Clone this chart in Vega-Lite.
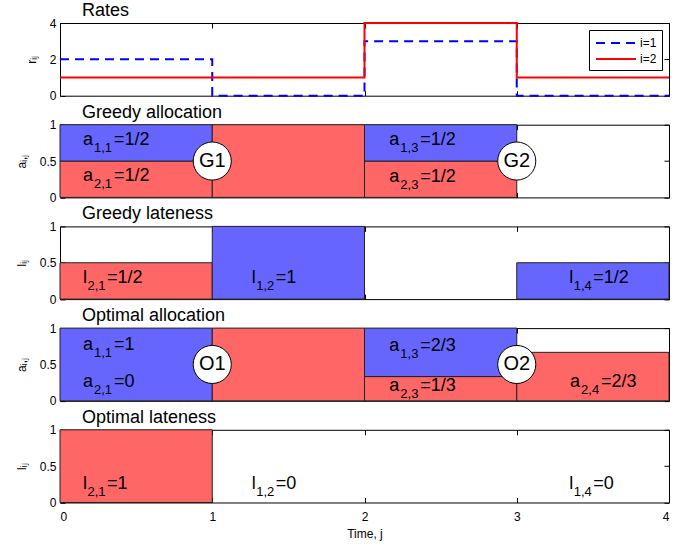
{
 "$schema": "https://vega.github.io/schema/vega-lite/v6.json",
 "background": "white",
 "padding": {"left": 14, "top": 1, "right": 5, "bottom": 5},
 "bounds": "flush",
 "spacing": 28.7,
 "resolve": {"scale": {"color": "independent", "strokeDash": "independent"}},
 "config": {
  "view": {"stroke": "black", "strokeWidth": 1},
  "font": "Liberation Sans",
  "axis": {"domain": false, "grid": false, "tickColor": "black", "tickSize": -5, "labelPadding": 9, "titlePadding": 11, "labelFontSize": 12, "labelColor": "black", "titleFontSize": 12, "titleFontWeight": "normal", "titleColor": "black", "labelFont": "Liberation Sans", "titleFont": "Liberation Sans", "format": "~g"},
  "title": {"fontSize": 18, "fontWeight": "normal", "anchor": "start", "frame": "group", "dx": 22, "offset": -3, "font": "Liberation Sans", "color": "black"},
  "text": {"font": "Liberation Sans", "color": "black"}
 },
 "datasets": {
  "rates": [
   {"t": 0, "r": 2, "s": "i=1"}, {"t": 1, "r": 0, "s": "i=1"}, {"t": 2, "r": 3, "s": "i=1"}, {"t": 3, "r": 0, "s": "i=1"}, {"t": 4, "r": 0, "s": "i=1"},
   {"t": 0, "r": 1, "s": "i=2"}, {"t": 2, "r": 4, "s": "i=2"}, {"t": 3, "r": 1, "s": "i=2"}, {"t": 4, "r": 1, "s": "i=2"}
  ],
  "rects": [
   {"p": "ga", "x": 0, "x2": 1, "y": 0, "y2": 0.5, "f": "r"},
   {"p": "ga", "x": 0, "x2": 1, "y": 0.5, "y2": 1, "f": "b"},
   {"p": "ga", "x": 1, "x2": 2, "y": 0, "y2": 1, "f": "r"},
   {"p": "ga", "x": 2, "x2": 3, "y": 0, "y2": 0.5, "f": "r"},
   {"p": "ga", "x": 2, "x2": 3, "y": 0.5, "y2": 1, "f": "b"},
   {"p": "gl", "x": 0, "x2": 1, "y": 0, "y2": 0.5, "f": "r"},
   {"p": "gl", "x": 1, "x2": 2, "y": 0, "y2": 1, "f": "b"},
   {"p": "gl", "x": 3, "x2": 4, "y": 0, "y2": 0.5, "f": "b"},
   {"p": "oa", "x": 0, "x2": 1, "y": 0, "y2": 1, "f": "b"},
   {"p": "oa", "x": 1, "x2": 2, "y": 0, "y2": 1, "f": "r"},
   {"p": "oa", "x": 2, "x2": 3, "y": 0, "y2": 0.3333, "f": "r"},
   {"p": "oa", "x": 2, "x2": 3, "y": 0.3333, "y2": 1, "f": "b"},
   {"p": "oa", "x": 3, "x2": 4, "y": 0, "y2": 0.6667, "f": "r"},
   {"p": "ol", "x": 0, "x2": 1, "y": 0, "y2": 1, "f": "r"}
  ],
  "labels": [
   {"p": "ga", "x": 0.151, "y": 0.716, "m": "a", "sub": "1,1", "v": "=1/2"},
   {"p": "ga", "x": 0.151, "y": 0.223, "m": "a", "sub": "2,1", "v": "=1/2"},
   {"p": "ga", "x": 2.163, "y": 0.716, "m": "a", "sub": "1,3", "v": "=1/2"},
   {"p": "ga", "x": 2.163, "y": 0.214, "m": "a", "sub": "2,3", "v": "=1/2"},
   {"p": "gl", "x": 0.151, "y": 0.215, "m": "l", "sub": "2,1", "v": "=1/2"},
   {"p": "gl", "x": 1.259, "y": 0.215, "m": "l", "sub": "1,2", "v": "=1"},
   {"p": "gl", "x": 3.345, "y": 0.215, "m": "l", "sub": "1,4", "v": "=1/2"},
   {"p": "oa", "x": 0.151, "y": 0.70, "m": "a", "sub": "1,1", "v": "=1"},
   {"p": "oa", "x": 0.151, "y": 0.194, "m": "a", "sub": "2,1", "v": "=0"},
   {"p": "oa", "x": 2.163, "y": 0.69, "m": "a", "sub": "1,3", "v": "=2/3"},
   {"p": "oa", "x": 2.163, "y": 0.14, "m": "a", "sub": "2,3", "v": "=1/3"},
   {"p": "oa", "x": 3.35, "y": 0.194, "m": "a", "sub": "2,4", "v": "=2/3"},
   {"p": "ol", "x": 0.151, "y": 0.19, "m": "l", "sub": "2,1", "v": "=1"},
   {"p": "ol", "x": 1.259, "y": 0.19, "m": "l", "sub": "1,2", "v": "=0"},
   {"p": "ol", "x": 3.345, "y": 0.19, "m": "l", "sub": "1,4", "v": "=0"}
  ],
  "circles": [
   {"p": "ga", "x": 1, "y": 0.5, "t": "G1"},
   {"p": "ga", "x": 3, "y": 0.5, "t": "G2"},
   {"p": "oa", "x": 1, "y": 0.5, "t": "O1"},
   {"p": "oa", "x": 3, "y": 0.5, "t": "O2"}
  ]
 },
 "vconcat": [
  {
   "title": "Rates",
   "width": 609, "height": 72.7,
   "data": {"name": "rates"},
   "resolve": {"axis": {"x": "independent", "y": "independent"}},
   "layer": [
    {
     "mark": {"type": "line", "interpolate": "step-after", "strokeWidth": 2},
     "encoding": {
      "x": {"field": "t", "type": "quantitative", "scale": {"domain": [0, 4], "nice": false}, "axis": {"orient": "bottom", "values": [0, 1, 2, 3, 4], "labels": false, "title": null}},
      "y": {"field": "r", "type": "quantitative", "scale": {"domain": [0, 4], "nice": false}, "axis": {"orient": "left", "values": [0, 2, 4], "title": "rᵢⱼ"}},
      "color": {"field": "s", "type": "nominal", "scale": {"domain": ["i=1", "i=2"], "range": ["#0000FF", "#FF0000"]},
       "legend": {"title": null, "orient": "top-right", "offset": 7, "strokeColor": "black", "fillColor": "white", "padding": 5, "symbolType": "M-3,0H3", "symbolStrokeWidth": 2, "symbolSize": 178, "symbolOffset": 14, "labelOffset": 16, "labelFontSize": 12, "labelFont": "Liberation Sans", "rowPadding": 2}},
      "strokeDash": {"field": "s", "type": "nominal", "scale": {"domain": ["i=1", "i=2"], "range": [[9, 6], [1, 0]]},
       "legend": {"title": null, "orient": "top-right", "offset": 7, "strokeColor": "black", "fillColor": "white", "padding": 5, "symbolType": "M-3,0H3", "symbolStrokeWidth": 2, "symbolSize": 178, "symbolOffset": 14, "labelOffset": 16, "labelFontSize": 12, "labelFont": "Liberation Sans", "rowPadding": 2}}
     }
    },
    {
     "mark": {"type": "point", "opacity": 0},
     "encoding": {
      "x": {"field": "t", "type": "quantitative", "axis": {"orient": "top", "values": [0, 1, 2, 3, 4], "labels": false, "title": null}},
      "y": {"field": "r", "type": "quantitative", "axis": {"orient": "right", "values": [0, 2, 4], "labels": false, "title": null}}
     }
    }
   ]
  },
  {
   "title": "Greedy allocation",
   "width": 609, "height": 72.7,
   "resolve": {"axis": {"x": "independent", "y": "independent"}},
   "layer": [
    {
     "data": {"name": "rects"},
     "transform": [{"filter": "datum.p == 'ga'"}],
     "mark": {"type": "rect", "stroke": "#222222", "strokeWidth": 1},
     "encoding": {
      "x": {"field": "x", "type": "quantitative", "scale": {"domain": [0, 4], "nice": false}, "axis": {"orient": "bottom", "values": [0, 1, 2, 3, 4], "labels": false, "title": null}},
      "x2": {"field": "x2"},
      "y": {"field": "y", "type": "quantitative", "scale": {"domain": [0, 1], "nice": false}, "axis": {"orient": "left", "values": [0, 0.5, 1], "title": "aᵢ,ⱼ"}},
      "y2": {"field": "y2"},
      "fill": {"field": "f", "type": "nominal", "scale": {"domain": ["b", "r"], "range": ["#6666FF", "#FF6666"]}, "legend": null}
     }
    },
    {
     "data": {"name": "labels"},
     "transform": [{"filter": "datum.p == 'ga'"}],
     "mark": {"type": "text", "align": "left", "baseline": "alphabetic", "fontSize": 18},
     "encoding": {
      "x": {"field": "x", "type": "quantitative", "axis": {"orient": "top", "values": [0, 1, 2, 3, 4], "labels": false, "title": null}},
      "y": {"field": "y", "type": "quantitative", "axis": {"orient": "right", "values": [0, 0.5, 1], "labels": false, "title": null}},
      "text": {"field": "m"}
     }
    },
    {
     "data": {"name": "labels"},
     "transform": [{"filter": "datum.p == 'ga'"}],
     "mark": {"type": "text", "align": "left", "baseline": "alphabetic", "fontSize": 13, "dx": 11, "dy": 7},
     "encoding": {
      "x": {"field": "x", "type": "quantitative", "axis": null},
      "y": {"field": "y", "type": "quantitative", "axis": null},
      "text": {"field": "sub"}
     }
    },
    {
     "data": {"name": "labels"},
     "transform": [{"filter": "datum.p == 'ga'"}],
     "mark": {"type": "text", "align": "left", "baseline": "alphabetic", "fontSize": 18, "dx": 31},
     "encoding": {
      "x": {"field": "x", "type": "quantitative", "axis": null},
      "y": {"field": "y", "type": "quantitative", "axis": null},
      "text": {"field": "v"}
     }
    },
    {
     "data": {"name": "circles"},
     "transform": [{"filter": "datum.p == 'ga'"}],
     "mark": {"type": "point", "shape": "circle", "filled": true, "fill": "white", "stroke": "black", "strokeWidth": 1, "size": 1450, "opacity": 1},
     "encoding": {
      "x": {"field": "x", "type": "quantitative", "axis": null},
      "y": {"field": "y", "type": "quantitative", "axis": null}
     }
    },
    {
     "data": {"name": "circles"},
     "transform": [{"filter": "datum.p == 'ga'"}],
     "mark": {"type": "text", "align": "center", "baseline": "middle", "fontSize": 20},
     "encoding": {
      "x": {"field": "x", "type": "quantitative", "axis": null},
      "y": {"field": "y", "type": "quantitative", "axis": null},
      "text": {"field": "t"}
     }
    }
   ]
  },
  {
   "title": "Greedy lateness",
   "width": 609, "height": 72.7,
   "resolve": {"axis": {"x": "independent", "y": "independent"}},
   "layer": [
    {
     "data": {"name": "rects"},
     "transform": [{"filter": "datum.p == 'gl'"}],
     "mark": {"type": "rect", "stroke": "#222222", "strokeWidth": 1},
     "encoding": {
      "x": {"field": "x", "type": "quantitative", "scale": {"domain": [0, 4], "nice": false}, "axis": {"orient": "bottom", "values": [0, 1, 2, 3, 4], "labels": false, "title": null}},
      "x2": {"field": "x2"},
      "y": {"field": "y", "type": "quantitative", "scale": {"domain": [0, 1], "nice": false}, "axis": {"orient": "left", "values": [0, 0.5, 1], "title": "lᵢⱼ"}},
      "y2": {"field": "y2"},
      "fill": {"field": "f", "type": "nominal", "scale": {"domain": ["b", "r"], "range": ["#6666FF", "#FF6666"]}, "legend": null}
     }
    },
    {
     "data": {"name": "labels"},
     "transform": [{"filter": "datum.p == 'gl'"}],
     "mark": {"type": "text", "align": "left", "baseline": "alphabetic", "fontSize": 18},
     "encoding": {
      "x": {"field": "x", "type": "quantitative", "axis": {"orient": "top", "values": [0, 1, 2, 3, 4], "labels": false, "title": null}},
      "y": {"field": "y", "type": "quantitative", "axis": {"orient": "right", "values": [0, 0.5, 1], "labels": false, "title": null}},
      "text": {"field": "m"}
     }
    },
    {
     "data": {"name": "labels"},
     "transform": [{"filter": "datum.p == 'gl'"}],
     "mark": {"type": "text", "align": "left", "baseline": "alphabetic", "fontSize": 13, "dx": 4.5, "dy": 7},
     "encoding": {
      "x": {"field": "x", "type": "quantitative", "axis": null},
      "y": {"field": "y", "type": "quantitative", "axis": null},
      "text": {"field": "sub"}
     }
    },
    {
     "data": {"name": "labels"},
     "transform": [{"filter": "datum.p == 'gl'"}],
     "mark": {"type": "text", "align": "left", "baseline": "alphabetic", "fontSize": 18, "dx": 24},
     "encoding": {
      "x": {"field": "x", "type": "quantitative", "axis": null},
      "y": {"field": "y", "type": "quantitative", "axis": null},
      "text": {"field": "v"}
     }
    }
   ]
  },
  {
   "title": "Optimal allocation",
   "width": 609, "height": 72.7,
   "resolve": {"axis": {"x": "independent", "y": "independent"}},
   "layer": [
    {
     "data": {"name": "rects"},
     "transform": [{"filter": "datum.p == 'oa'"}],
     "mark": {"type": "rect", "stroke": "#222222", "strokeWidth": 1},
     "encoding": {
      "x": {"field": "x", "type": "quantitative", "scale": {"domain": [0, 4], "nice": false}, "axis": {"orient": "bottom", "values": [0, 1, 2, 3, 4], "labels": false, "title": null}},
      "x2": {"field": "x2"},
      "y": {"field": "y", "type": "quantitative", "scale": {"domain": [0, 1], "nice": false}, "axis": {"orient": "left", "values": [0, 0.5, 1], "title": "aᵢ,ⱼ"}},
      "y2": {"field": "y2"},
      "fill": {"field": "f", "type": "nominal", "scale": {"domain": ["b", "r"], "range": ["#6666FF", "#FF6666"]}, "legend": null}
     }
    },
    {
     "data": {"name": "labels"},
     "transform": [{"filter": "datum.p == 'oa'"}],
     "mark": {"type": "text", "align": "left", "baseline": "alphabetic", "fontSize": 18},
     "encoding": {
      "x": {"field": "x", "type": "quantitative", "axis": {"orient": "top", "values": [0, 1, 2, 3, 4], "labels": false, "title": null}},
      "y": {"field": "y", "type": "quantitative", "axis": {"orient": "right", "values": [0, 0.5, 1], "labels": false, "title": null}},
      "text": {"field": "m"}
     }
    },
    {
     "data": {"name": "labels"},
     "transform": [{"filter": "datum.p == 'oa'"}],
     "mark": {"type": "text", "align": "left", "baseline": "alphabetic", "fontSize": 13, "dx": 11, "dy": 7},
     "encoding": {
      "x": {"field": "x", "type": "quantitative", "axis": null},
      "y": {"field": "y", "type": "quantitative", "axis": null},
      "text": {"field": "sub"}
     }
    },
    {
     "data": {"name": "labels"},
     "transform": [{"filter": "datum.p == 'oa'"}],
     "mark": {"type": "text", "align": "left", "baseline": "alphabetic", "fontSize": 18, "dx": 31},
     "encoding": {
      "x": {"field": "x", "type": "quantitative", "axis": null},
      "y": {"field": "y", "type": "quantitative", "axis": null},
      "text": {"field": "v"}
     }
    },
    {
     "data": {"name": "circles"},
     "transform": [{"filter": "datum.p == 'oa'"}],
     "mark": {"type": "point", "shape": "circle", "filled": true, "fill": "white", "stroke": "black", "strokeWidth": 1, "size": 1450, "opacity": 1},
     "encoding": {
      "x": {"field": "x", "type": "quantitative", "axis": null},
      "y": {"field": "y", "type": "quantitative", "axis": null}
     }
    },
    {
     "data": {"name": "circles"},
     "transform": [{"filter": "datum.p == 'oa'"}],
     "mark": {"type": "text", "align": "center", "baseline": "middle", "fontSize": 20},
     "encoding": {
      "x": {"field": "x", "type": "quantitative", "axis": null},
      "y": {"field": "y", "type": "quantitative", "axis": null},
      "text": {"field": "t"}
     }
    }
   ]
  },
  {
   "title": "Optimal lateness",
   "width": 609, "height": 72.7,
   "resolve": {"axis": {"x": "independent", "y": "independent"}},
   "layer": [
    {
     "data": {"name": "rects"},
     "transform": [{"filter": "datum.p == 'ol'"}],
     "mark": {"type": "rect", "stroke": "#222222", "strokeWidth": 1},
     "encoding": {
      "x": {"field": "x", "type": "quantitative", "scale": {"domain": [0, 4], "nice": false}, "axis": {"orient": "bottom", "values": [0, 1, 2, 3, 4], "title": "Time, j", "labelPadding": 14, "titlePadding": 6}},
      "x2": {"field": "x2"},
      "y": {"field": "y", "type": "quantitative", "scale": {"domain": [0, 1], "nice": false}, "axis": {"orient": "left", "values": [0, 0.5, 1], "title": "lᵢⱼ"}},
      "y2": {"field": "y2"},
      "fill": {"field": "f", "type": "nominal", "scale": {"domain": ["b", "r"], "range": ["#6666FF", "#FF6666"]}, "legend": null}
     }
    },
    {
     "data": {"name": "labels"},
     "transform": [{"filter": "datum.p == 'ol'"}],
     "mark": {"type": "text", "align": "left", "baseline": "alphabetic", "fontSize": 18},
     "encoding": {
      "x": {"field": "x", "type": "quantitative", "axis": {"orient": "top", "values": [0, 1, 2, 3, 4], "labels": false, "title": null}},
      "y": {"field": "y", "type": "quantitative", "axis": {"orient": "right", "values": [0, 0.5, 1], "labels": false, "title": null}},
      "text": {"field": "m"}
     }
    },
    {
     "data": {"name": "labels"},
     "transform": [{"filter": "datum.p == 'ol'"}],
     "mark": {"type": "text", "align": "left", "baseline": "alphabetic", "fontSize": 13, "dx": 4.5, "dy": 7},
     "encoding": {
      "x": {"field": "x", "type": "quantitative", "axis": null},
      "y": {"field": "y", "type": "quantitative", "axis": null},
      "text": {"field": "sub"}
     }
    },
    {
     "data": {"name": "labels"},
     "transform": [{"filter": "datum.p == 'ol'"}],
     "mark": {"type": "text", "align": "left", "baseline": "alphabetic", "fontSize": 18, "dx": 24},
     "encoding": {
      "x": {"field": "x", "type": "quantitative", "axis": null},
      "y": {"field": "y", "type": "quantitative", "axis": null},
      "text": {"field": "v"}
     }
    }
   ]
  }
 ]
}
